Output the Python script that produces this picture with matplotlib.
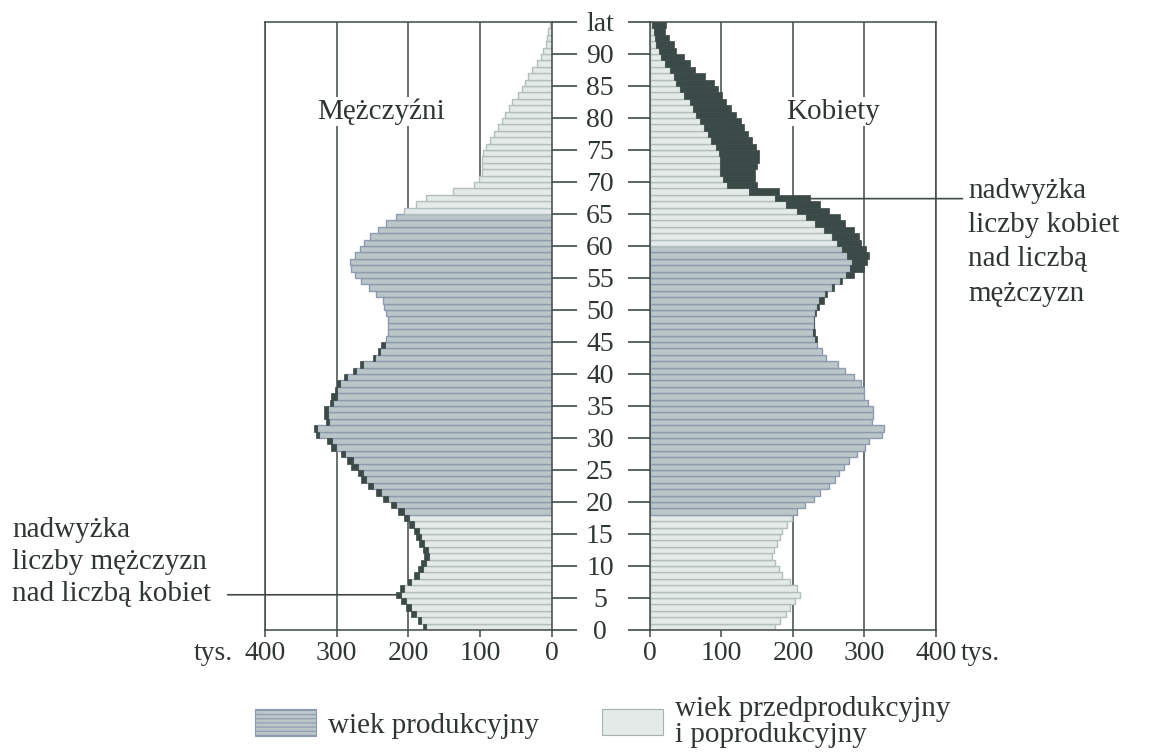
"""Piramida wieku: mężczyźni / kobiety, wiek produkcyjny i nadwyżki płci."""

import matplotlib.pyplot as plt
import numpy as np
from matplotlib.patches import Patch

plt.rcParams["font.family"] = ["Liberation Serif", "DejaVu Serif"]
plt.rcParams["hatch.color"] = "#8e9ab0"
plt.rcParams["hatch.linewidth"] = 0.8

# wiek 0..94, tys. osób
ages = np.arange(95)
men = np.array([
    180, 187, 196, 203, 210, 217, 212, 200, 192, 187,
    182, 178, 180, 185, 189, 192, 199, 206, 215, 224,
    236, 245, 257, 266, 271, 280, 285, 294, 308, 313,
    329, 331, 315, 318, 318, 310, 308, 303, 299, 290,
    278, 268, 250, 243, 238, 231, 228, 229, 229, 231,
    234, 236, 245, 255, 266, 274, 280, 282, 275, 268,
    262, 254, 243, 231, 218, 206, 190, 175, 138, 108,
    102, 98, 98, 98, 96, 92, 86, 81, 75, 70,
    65, 60, 56, 48, 42, 37, 33, 28, 21, 16,
    12, 9, 7, 5, 3,
])
women = np.array([
    175, 182, 190, 196, 203, 210, 206, 196, 185, 180,
    175, 171, 173, 178, 182, 185, 192, 199, 206, 217,
    229, 238, 250, 259, 264, 271, 278, 289, 301, 306,
    325, 327, 311, 312, 312, 305, 299, 299, 295, 285,
    273, 263, 246, 240, 233, 233, 231, 230, 230, 232,
    237, 244, 248, 258, 269, 285, 299, 304, 306, 302,
    295, 292, 285, 273, 266, 250, 238, 224, 180, 150,
    147, 147, 150, 152, 152, 148, 142, 137, 132, 127,
    120, 114, 107, 101, 95, 89, 77, 63, 56, 47,
    37, 33, 26, 21, 23,
])

prod_men = (18, 64)
prod_women = (18, 59)

age_ticks = np.arange(0, 96, 5)
age_labels = [str(a) for a in range(0, 95, 5)] + ["lat"]
value_ticks = [0, 100, 200, 300, 400]
value_labels = ["0", "100", "200", "300", "400"]

C_PROD = "#bac6c7"
E_PROD = "#8e9ab0"
C_POST = "#e4eae7"
E_POST = "#b3bfbd"
C_DARK = "#3c4a47"
C_LINE = "#3f4a48"
C_TEXT = "#2f3634"

fig = plt.figure(figsize=(11.5, 7.56), dpi=100)
ax_l = fig.add_axes([0.2304, 0.1667, 0.2496, 0.8042])
ax_r = fig.add_axes([0.5652, 0.1667, 0.2487, 0.8042])

common = np.minimum(men, women)
for ax, total, (lo, hi) in ((ax_l, men, prod_men), (ax_r, women, prod_women)):
    prod = (ages >= lo) & (ages <= hi)
    face = np.where(prod, C_PROD, C_POST)
    edge = np.where(prod, E_PROD, E_POST)
    ax.barh(ages, common, height=1.0, align="edge", color=face,
            edgecolor=edge, linewidth=1.0, zorder=2)
    extra = total > common
    ax.barh(ages[extra], (total - common)[extra], left=common[extra], height=1.0,
            align="edge", color=C_DARK, edgecolor=C_DARK, linewidth=0.5, zorder=2)

for ax in (ax_l, ax_r):
    ax.set_ylim(0, 95)
    ax.set_yticks(age_ticks)
    ax.set_xticks(value_ticks)
    ax.set_xticklabels(value_labels)
    ax.grid(axis="x", color=C_LINE, linewidth=1.1)
    ax.set_axisbelow(True)
    for s in ax.spines.values():
        s.set_color(C_LINE)
        s.set_linewidth(1.1)
    ax.tick_params(axis="x", length=5, width=1.1, color=C_LINE, labelsize=20,
                   pad=3, labelcolor=C_TEXT)

ax_l.set_xlim(400, 0)
ax_r.set_xlim(0, 400)
ax_l.yaxis.tick_right()
ax_l.tick_params(axis="y", length=18, width=1.2, color=C_LINE, labelright=False)
ax_r.set_yticklabels(age_labels)
ax_r.tick_params(axis="y", length=16, width=1.2, color=C_LINE, labelsize=20,
                 pad=20, labelcolor=C_TEXT)
for lbl in ax_r.get_yticklabels():
    lbl.set_horizontalalignment("center")

# "tys." przy skrajnych podziałkach
ax_l.annotate("tys.", xy=(400, 0), xytext=(-23, -8), textcoords="offset points",
              ha="right", va="top", fontsize=20, color=C_TEXT)
ax_r.annotate("tys.", xy=(400, 0), xytext=(18, -8), textcoords="offset points",
              ha="left", va="top", fontsize=20, color=C_TEXT)

ax_l.text(238, 81, "Mężczyźni", ha="center", va="center", fontsize=21, color=C_TEXT,
          bbox=dict(facecolor="white", edgecolor="none", pad=1), zorder=3)
ax_r.text(256, 81, "Kobiety", ha="center", va="center", fontsize=21, color=C_TEXT,
          bbox=dict(facecolor="white", edgecolor="none", pad=1), zorder=3)

# nadwyżki
line_kw = dict(arrowstyle="-", color=C_LINE, lw=1.2, shrinkA=0, shrinkB=0)
ax_r.annotate("", xy=(women[67], 67.4), xytext=(437, 67.4), arrowprops=line_kw,
              annotation_clip=False)
ax_r.text(445, 60.6, "nadwyżka\nliczby kobiet\nnad liczbą\nmężczyzn", ha="left",
          va="center", fontsize=21, linespacing=1.42, color=C_TEXT, clip_on=False)
ax_l.annotate("", xy=(men[5], 5.5), xytext=(452, 5.5), arrowprops=line_kw,
              annotation_clip=False)
fig.text(0.0104, 1 - 562 / 756, "nadwyżka\nliczby mężczyzn\nnad liczbą kobiet",
         ha="left", va="center", fontsize=21, linespacing=1.28, color=C_TEXT)

# legenda
h_prod = Patch(facecolor=C_PROD, edgecolor=E_PROD, hatch="----", linewidth=0.8)
h_post = Patch(facecolor=C_POST, edgecolor="#a8b2b0", linewidth=0.8)
leg_kw = dict(loc="center left", frameon=False, fontsize=21, handlelength=2.1,
              handleheight=1.0, handletextpad=0.4, borderpad=0, borderaxespad=0,
              labelcolor=C_TEXT)
fig.legend([h_prod], ["wiek produkcyjny"], bbox_to_anchor=(255 / 1150, 1 - 724 / 756),
           **leg_kw)
leg2 = fig.legend([h_post], ["wiek przedprodukcyjny\ni poprodukcyjny"],
                  bbox_to_anchor=(602 / 1150, 1 - 722 / 756), **leg_kw)
leg2.get_texts()[0].set_linespacing(1.0)

fig.savefig("out.png", dpi=100)
